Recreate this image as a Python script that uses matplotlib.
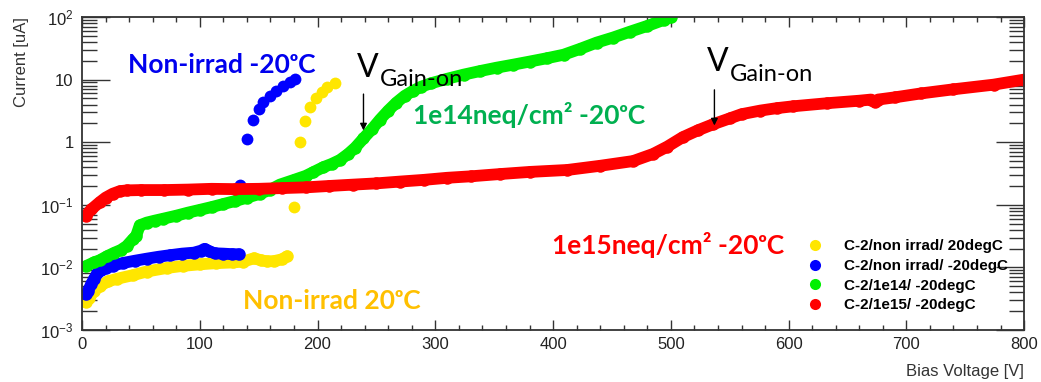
import matplotlib
matplotlib.use("Agg")
import matplotlib.pyplot as plt
from matplotlib.lines import Line2D
from matplotlib.ticker import MultipleLocator, LogLocator, FixedLocator, FixedFormatter, NullFormatter

plt.rcParams['font.family'] = ['Liberation Sans', 'DejaVu Sans']
plt.rcParams['mathtext.fontset'] = 'custom'
plt.rcParams['mathtext.rm'] = 'Liberation Sans'
plt.rcParams['mathtext.it'] = 'Liberation Sans:italic'

# C-2 / 1e15 neq/cm2 at -20 degC
red_v = [3, 8, 15, 20, 26, 32, 38, 50, 70, 90, 110, 130, 150, 170, 190, 210, 230, 250,
         270, 290, 310, 330, 355, 380, 412, 440, 468, 485, 497, 510, 523, 536, 550, 560,
         576, 590, 604, 633, 660, 670, 673, 676, 690, 712, 740, 774, 800]
red_i = [0.067, 0.085, 0.11, 0.13, 0.15, 0.165, 0.17, 0.172, 0.172, 0.175, 0.18, 0.178,
         0.18, 0.185, 0.19, 0.2, 0.21, 0.22, 0.235, 0.25, 0.27, 0.285, 0.31, 0.335, 0.36,
         0.42, 0.5, 0.65, 0.85, 1.2, 1.55, 1.94, 2.4, 2.8, 3.2, 3.5, 3.75, 4.2, 4.6, 4.8,
         4.4, 4.8, 5.2, 6.0, 7.0, 8.3, 10.0]

# C-2 / 1e14 neq/cm2 at -20 degC
green_v = [3, 10, 15, 21, 27, 33, 38, 43, 46, 49, 55, 62, 69, 80, 90, 100, 110, 120, 130,
           140, 151, 160, 168, 180, 190, 196, 205, 212, 219, 226, 232, 239, 246, 253, 260,
           267, 274, 281, 288, 296, 310, 324, 338, 352, 366, 380, 395, 409, 423, 437, 451,
           465, 480, 494, 500]
green_i = [0.0104, 0.012, 0.013, 0.015, 0.017, 0.019, 0.022, 0.028, 0.032, 0.047, 0.052,
           0.056, 0.06, 0.067, 0.075, 0.083, 0.092, 0.103, 0.115, 0.13, 0.15, 0.175, 0.21,
           0.25, 0.29, 0.33, 0.4, 0.45, 0.52, 0.65, 0.82, 1.15, 1.6, 2.3, 3.2, 4.3, 5.5,
           6.6, 7.7, 8.7, 10.3, 12, 13.7, 15.5, 17.3, 19.4, 22, 25, 31, 39, 47, 58, 72, 90,
           100]

# C-2 / non irradiated at -20 degC
blue_v = [3, 5, 8, 10, 13, 16, 20, 26, 35, 45, 55, 65, 75, 85, 95, 101, 104, 108, 113,
          120, 127, 133]
blue_i = [0.0037, 0.0042, 0.0055, 0.0065, 0.008, 0.009, 0.0097, 0.0107, 0.0118, 0.0128,
          0.0138, 0.0148, 0.0157, 0.0166, 0.0172, 0.0185, 0.0198, 0.018, 0.0168, 0.0166,
          0.0163, 0.0162]
blue_bd_v = [134, 140, 145, 150, 154, 160, 165, 171, 177, 181]
blue_bd_i = [0.21, 1.12, 2.25, 3.4, 4.4, 5.4, 6.5, 7.8, 9.1, 10.3]

# C-2 / non irradiated at 20 degC
yellow_v = [3, 6, 10, 15, 22, 30, 43, 55, 72, 86, 100, 114, 128, 137, 146, 152, 157, 163,
            170, 174]
yellow_i = [0.0028, 0.0032, 0.0042, 0.005, 0.006, 0.0066, 0.0075, 0.0086, 0.0098, 0.0106,
            0.0112, 0.0117, 0.012, 0.0124, 0.014, 0.013, 0.0125, 0.0126, 0.0135, 0.015]
yellow_bd_v = [180, 185, 189, 194, 199, 204, 208, 215]
yellow_bd_i = [0.092, 1.0, 2.2, 3.6, 5.0, 6.3, 7.6, 8.8]

legend_labels = ["C-2/non irrad/ 20degC", "C-2/non irrad/ -20degC",
                 "C-2/1e14/ -20degC", "C-2/1e15/ -20degC"]

YELLOW, BLUE, GREEN, RED = "#ffe600", "#0000ff", "#00f000", "#ff0000"

fig = plt.figure(figsize=(10.41, 3.82), dpi=100)
ax = fig.add_axes([0.0788, 0.1361, 0.905, 0.8194])


def band(v, i, c):
    ax.plot(v, i, color=c, lw=8.5, solid_capstyle='round', solid_joinstyle='round',
            marker='o', ms=9, mew=0)


def dots(v, i, c):
    ax.plot(v, i, 'o', color=c, ms=8.5, mew=0)


band(yellow_v, yellow_i, YELLOW)
dots(yellow_bd_v, yellow_bd_i, YELLOW)
band(blue_v, blue_i, BLUE)
dots(blue_bd_v, blue_bd_i, BLUE)
band(green_v, green_i, GREEN)
band(red_v, red_i, RED)

ax.set_xlim(0, 800)
ax.set_yscale('log')
ax.set_ylim(1e-3, 1e2)

ax.xaxis.set_major_locator(MultipleLocator(100))
ax.xaxis.set_minor_locator(MultipleLocator(20))
ax.yaxis.set_major_locator(FixedLocator([1e-3, 1e-2, 1e-1, 1, 10, 100]))
ax.yaxis.set_major_formatter(FixedFormatter([r'$10^{-3}$', r'$10^{-2}$', r'$10^{-1}$',
                                             '1', '10', r'$10^{2}$']))
ax.yaxis.set_minor_locator(LogLocator(base=10, subs=range(2, 10), numticks=20))
ax.yaxis.set_minor_formatter(NullFormatter())

ax.tick_params(which='both', direction='in', top=True, right=True, width=1,
               color='#333333', labelcolor='#222222', labelsize=12)
ax.tick_params(axis='x', which='major', length=7, pad=5)
ax.tick_params(axis='x', which='minor', length=3.6)
ax.tick_params(axis='y', which='major', length=20, pad=6)
ax.tick_params(axis='y', which='minor', length=10.5)
for s in ax.spines.values():
    s.set_color('#333333')
    s.set_linewidth(1.3)

ax.set_xlabel("Bias Voltage [V]", loc='right', fontsize=12, color='#333333', labelpad=9)
ax.set_ylabel("Current [uA]", loc='top', fontsize=12, color='#333333', labelpad=8)

# curve annotations
lab = dict(family=['Lato', 'Noto Sans', 'DejaVu Sans'], fontweight='bold', va='baseline')
ax.text(39, 12.6, "Non-irrad -20ᵒC", color="#0000ee", fontsize=19, **lab)
ax.text(281, 1.94, "1e14neq/cm² -20ᵒC", color="#00b050", fontsize=19, **lab)
ax.text(399, 0.0163, "1e15neq/cm² -20ᵒC", color="#ff0000", fontsize=19, **lab)
ax.text(137, 0.00215, "Non-irrad 20ᵒC", color="#ffc000", fontsize=19, **lab)

# gain-onset markers
vg = dict(family=['Lato', 'DejaVu Sans'], color='black', va='baseline')
ax.text(233.5, 10.9, "V", fontsize=23, **vg)
ax.text(253, 7.85, "Gain-on", fontsize=17, **vg)
ax.text(531, 13.6, "V", fontsize=23, **vg)
ax.text(550, 9.4, "Gain-on", fontsize=17, **vg)
arrow = dict(arrowstyle='-|>', color='black', lw=1, mutation_scale=10)
ax.annotate("", xy=(239, 1.39), xytext=(239, 6.5), arrowprops=arrow)
ax.annotate("", xy=(537, 1.67), xytext=(537, 7.6), arrowprops=arrow)

handles = [Line2D([], [], ls='none', marker='o', ms=8, mew=0, color=c)
           for c in (YELLOW, BLUE, GREEN, RED)]
ax.legend(handles, legend_labels, loc='upper left', bbox_to_anchor=(0.763, 0.3136),
          frameon=False, prop={'weight': 'bold', 'size': 11},
          handlelength=0.9, handletextpad=1.4, labelspacing=0.37, borderpad=0)

fig.savefig("out.png", dpi=100)
